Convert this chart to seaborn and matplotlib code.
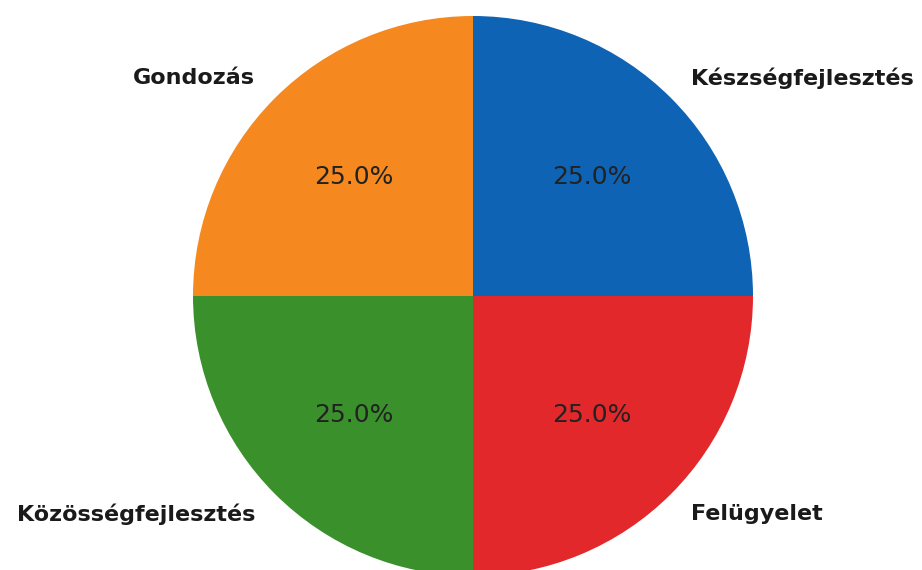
import matplotlib
matplotlib.use('Agg')
import matplotlib.pyplot as plt
import seaborn as sns

# Data
labels = ['Készségfejlesztés', 'Gondozás', 'Közösségfejlesztés', 'Felügyelet']
shares = [25, 25, 25, 25]
colors = ['#0f63b4', '#f5891f', '#3a912c', '#e3282b']

sns.set_style('white')
plt.rcParams['font.family'] = ['DejaVu Sans']

fig = plt.figure(figsize=(9.22, 5.70), dpi=100)
# pie centre at (473, 296) px, radius 280 px; bottom runs off the figure
W, H = 922, 570
r = 280
cx, cy = 473, 296
ax = fig.add_axes([(cx - r) / W, (H - cy - r) / H, 2 * r / W, 2 * r / H])

wedges, texts, autotexts = ax.pie(shares, labels=labels, colors=colors,
                                  autopct='%1.1f%%', startangle=0,
                                  labeldistance=1.1, pctdistance=0.6,
                                  wedgeprops={'linewidth': 0, 'edgecolor': 'none'})
for t in texts:
    t.set_fontsize(16)
    t.set_fontweight('bold')
    t.set_color('#1a1a1a')
for t in autotexts:
    t.set_fontsize(18)
    t.set_color('#222222')

ax.set_xlim(-1, 1)
ax.set_ylim(-1, 1)
ax.set_aspect('auto')
ax.axis('off')

fig.savefig('out.png', dpi=100)
